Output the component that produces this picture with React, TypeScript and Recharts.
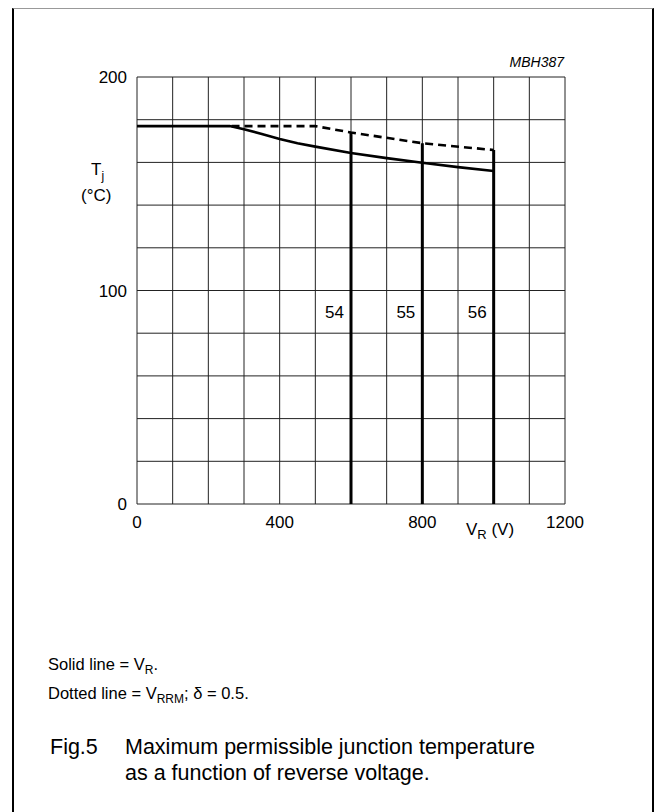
import {
  CartesianGrid,
  Line,
  LineChart,
  ReferenceDot,
  ReferenceLine,
  XAxis,
  YAxis,
} from "recharts";

// curves (V in volts, Tj in degC)
const solidVoltage = [0, 260, 300, 350, 400, 450, 500, 600, 700, 800, 900, 1000];
const solidTemp = [177, 177, 175.5, 173.3, 171, 169, 167.4, 164.4, 162, 159.8, 157.8, 156];

const dottedVoltage = [265, 500, 600, 800, 1000];
const dottedTemp = [177, 177, 174, 169, 165.8];

// type numbers and their VRRM limit lines
const typeNames = ["54", "55", "56"];
const typeVoltage = [600, 800, 1000];
const typeTop = [174, 169, 165.8];
const typeLabelTemp = 90;

const xGrid = [0, 100, 200, 300, 400, 500, 600, 700, 800, 900, 1000, 1100, 1200];
const xLabels = [0, 400, 800, 1200];
const yGrid = [0, 20, 40, 60, 80, 100, 120, 140, 160, 180, 200];
const yLabels = [0, 100, 200];

const FONT = '"Liberation Sans", Arial, Helvetica, sans-serif';

const solidData = solidVoltage.map((v, i) => ({ v, t: solidTemp[i] }));
const dottedData = dottedVoltage.map((v, i) => ({ v, t: dottedTemp[i] }));

const renderXTick = (props: any) => {
  const { x, y, payload } = props;
  if (!xLabels.includes(payload.value)) return <g />;
  return (
    <text x={x} y={y} dy={24} textAnchor="middle" fontSize={17} fontFamily={FONT} fill="#000">
      {payload.value}
    </text>
  );
};

const renderYTick = (props: any) => {
  const { x, y, payload } = props;
  if (!yLabels.includes(payload.value)) return <g />;
  return (
    <text x={x} y={y} dx={-10} dy={6} textAnchor="end" fontSize={17} fontFamily={FONT} fill="#000">
      {payload.value}
    </text>
  );
};

function Chart() {
  return (
    <LineChart width={655} height={560} margin={{ top: 77, right: 90, bottom: 26, left: 97 }}>
      <CartesianGrid stroke="#222" strokeWidth={1} />
      <XAxis
        type="number"
        dataKey="v"
        domain={[0, 1200]}
        ticks={xGrid}
        height={30}
        axisLine={false}
        tickLine={false}
        tickSize={0}
        tickMargin={0}
        tick={renderXTick}
        interval={0}
      />
      <YAxis
        type="number"
        dataKey="t"
        domain={[0, 200]}
        ticks={yGrid}
        width={40}
        axisLine={false}
        tickLine={false}
        tickSize={0}
        tickMargin={0}
        tick={renderYTick}
        interval={0}
      />
      {typeVoltage.map((v, i) => (
        <ReferenceLine
          key={"line" + v}
          segment={[
            { x: v, y: typeTop[i] },
            { x: v, y: 0 },
          ]}
          stroke="#000"
          strokeWidth={3}
        />
      ))}
      {typeVoltage.map((v, i) => (
        <ReferenceDot
          key={"dot" + v}
          x={v}
          y={typeLabelTemp}
          r={0}
          fill="none"
          stroke="none"
          label={{
            value: typeNames[i],
            position: "left",
            offset: 7,
            fontSize: 17,
            fontFamily: FONT,
            fill: "#000",
          }}
        />
      ))}
      <Line
        data={dottedData}
        dataKey="t"
        type="linear"
        stroke="#000"
        strokeWidth={2.6}
        strokeDasharray="8 5"
        dot={false}
        isAnimationActive={false}
      />
      <Line
        data={solidData}
        dataKey="t"
        type="linear"
        stroke="#000"
        strokeWidth={2.6}
        dot={false}
        isAnimationActive={false}
      />
    </LineChart>
  );
}

export default function App() {
  return (
    <div
      style={{
        position: "absolute",
        left: 0,
        top: 0,
        width: 655,
        height: 812,
        overflow: "hidden",
        background: "#fff",
      }}
    >
      <div
        style={{
          position: "absolute",
          left: 12,
          top: 8,
          width: 642,
          height: 810,
          boxSizing: "border-box",
          borderLeft: "2px solid #000",
          borderRight: "2px solid #000",
          borderTop: "1px solid #999",
        }}
      />
      <div style={{ position: "absolute", left: 0, top: 0 }}>
        <Chart />
      </div>
      <svg
        width={655}
        height={812}
        style={{ position: "absolute", left: 0, top: 0, pointerEvents: "none" }}
        fontFamily={FONT}
        fill="#000"
      >
        <text x={564} y={67} textAnchor="end" fontSize={14} fontStyle="italic">
          MBH387
        </text>
        <text x={91} y={175} fontSize={17}>
          T
          <tspan fontSize={12} dy={5}>
            j
          </tspan>
        </text>
        <text x={81} y={201} fontSize={17}>
          (°C)
        </text>
        <text x={466} y={535} fontSize={17}>
          V
          <tspan fontSize={13} dy={4}>
            R
          </tspan>
          <tspan dy={-4}> (V)</tspan>
        </text>
        <text x={48} y={670} fontSize={16.5}>
          Solid line = V
          <tspan fontSize={12} dy={4}>
            R
          </tspan>
          <tspan dy={-4}>.</tspan>
        </text>
        <text x={48} y={699} fontSize={16.5}>
          Dotted line = V
          <tspan fontSize={12} dy={4}>
            RRM
          </tspan>
          <tspan dy={-4}>; δ = 0.5.</tspan>
        </text>
        <text x={50} y={754} fontSize={21.5}>
          Fig.5
        </text>
        <text x={125} y={754} fontSize={21.5}>
          Maximum permissible junction temperature
        </text>
        <text x={125} y={780} fontSize={21.5}>
          as a function of reverse voltage.
        </text>
      </svg>
    </div>
  );
}
